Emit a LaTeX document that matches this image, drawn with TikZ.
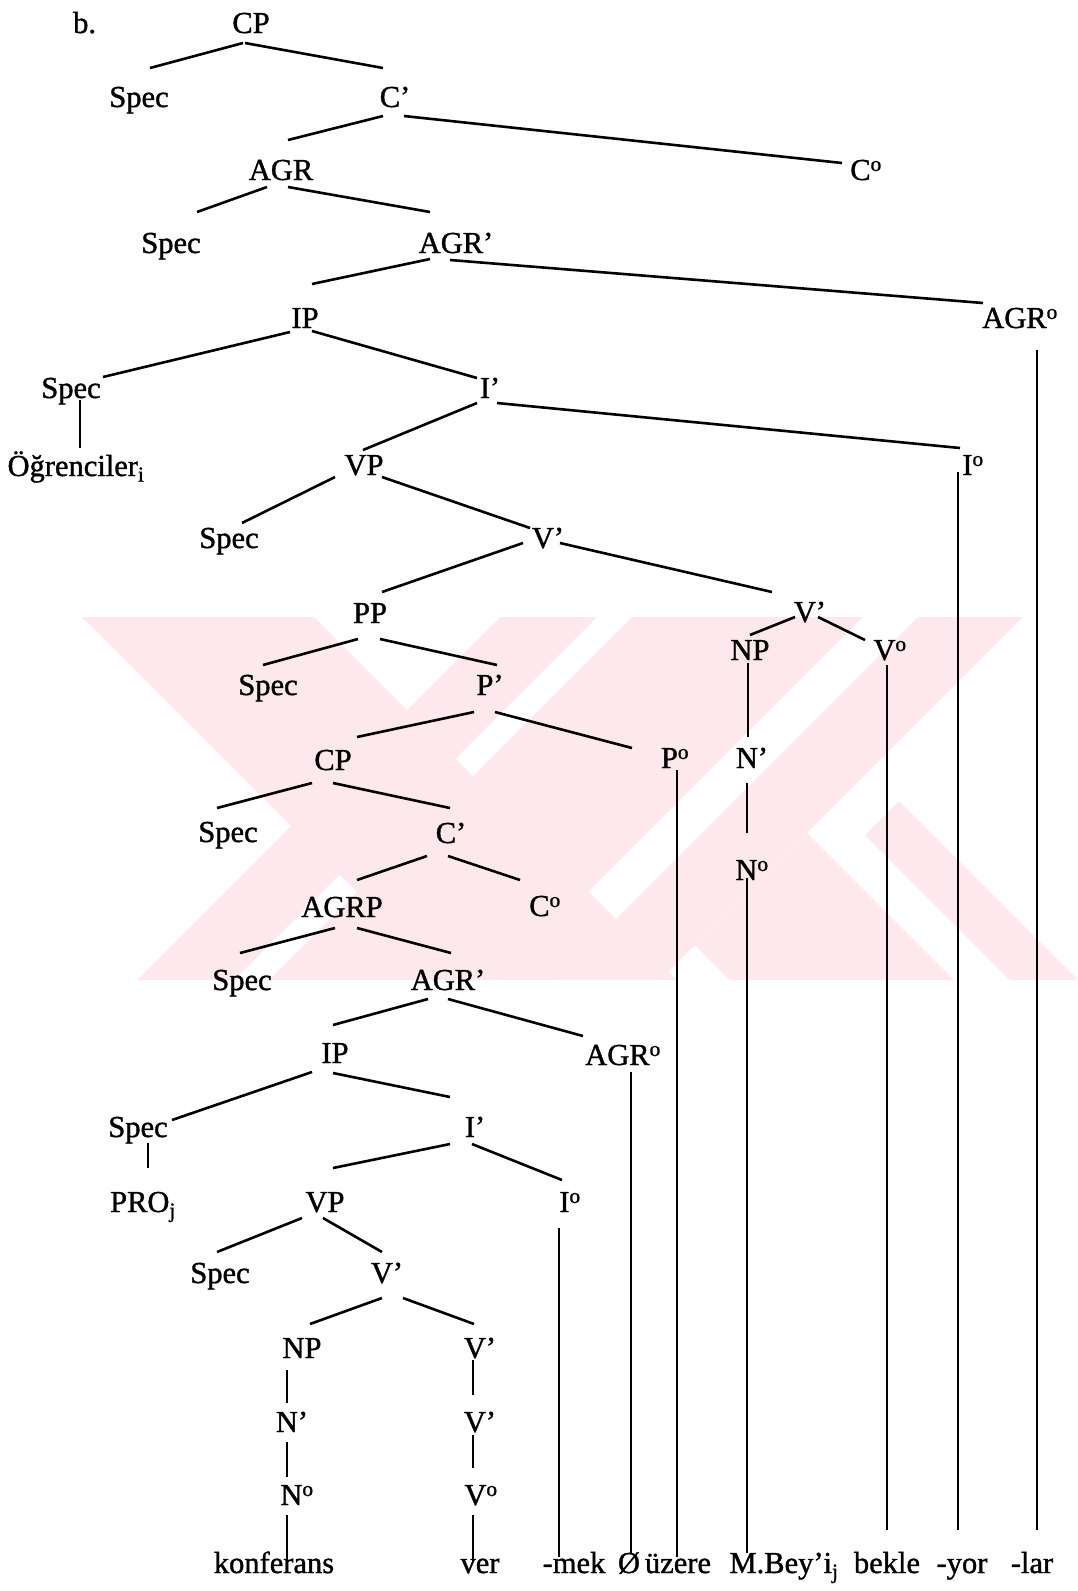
\documentclass[tikz,border=0pt]{standalone}
\usepackage{fontspec}
\setmainfont{Liberation Serif}[FakeBold=1.2]
\usetikzlibrary{calc}
\definecolor{wm}{RGB}{253,233,237}
\newcommand\E[4]{\draw[edge] ($(#1.base)+(#2)$) -- ($(#3.base)+(#4)$);}
\begin{document}
\begin{tikzpicture}[x=1pt,y=-1pt,
  lab/.style={anchor=base,inner sep=0pt,font=\fontsize{30.5}{36}\selectfont},
  edge/.style={line width=2.6pt,black}]
\useasboundingbox (0,0) rectangle (1078,1591);
% watermark
\begin{scope}
\clip (82,617) rectangle (1078,980);
\fill[wm] (82,617) -- (314,617) -- (677,980) -- (445,980) -- cycle;
\fill[wm] (500,617) -- (597,617) -- (234,980) -- (137,980) -- cycle;
\fill[wm] (632,617) -- (863,617) -- (500,980) -- (269,980) -- cycle;
\fill[wm] (918,617) -- (1023,617) -- (660,980) -- (555,980) -- cycle;
\fill[wm] (807,833) -- (954,980) -- (730,980) -- (695,945) -- cycle;
\fill[wm] (865,835) -- (899,801) -- (1078,980) -- (1010,980) -- cycle;
\end{scope}
% nodes
\node[lab,anchor=base west] (b) at (73,33) {b.};
\node[lab] (cpA) at (251,33) {CP};
\node[lab] (specA) at (139,107) {Spec};
\node[lab] (cbA) at (395,107) {C’};
\node[lab] (agrA) at (281,180) {AGR};
\node[lab] (c0A) at (866,180) {C\textsuperscript{o}};
\node[lab] (specB) at (171,253) {Spec};
\node[lab] (agrbA) at (456,253) {AGR’};
\node[lab] (ipA) at (305,328) {IP};
\node[lab] (agr0A) at (1020,328) {AGR\textsuperscript{o}};
\node[lab] (specC) at (71,398) {Spec};
\node[lab] (ibA) at (490,398) {I’};
\node[lab] (ogr) at (76,476) {Öğrenciler\textsubscript{i}};
\node[lab] (vpA) at (364,475) {VP};
\node[lab] (i0A) at (973,475) {I\textsuperscript{o}};
\node[lab] (specD) at (229,548) {Spec};
\node[lab] (vbA) at (548,548) {V’};
\node[lab] (ppA) at (370,623) {PP};
\node[lab] (vbB) at (810,622) {V’};
\node[lab] (npA) at (750,660) {NP};
\node[lab] (v0A) at (890,660) {V\textsuperscript{o}};
\node[lab] (specE) at (268,695) {Spec};
\node[lab] (pbA) at (490,695) {P’};
\node[lab] (cpB) at (333,770) {CP};
\node[lab] (p0A) at (675,768) {P\textsuperscript{o}};
\node[lab] (nbA) at (752,768) {N’};
\node[lab] (n0A) at (752,880) {N\textsuperscript{o}};
\node[lab] (specF) at (228,842) {Spec};
\node[lab] (cbB) at (451,843) {C’};
\node[lab] (agrpB) at (342,917) {AGRP};
\node[lab] (c0B) at (545,916) {C\textsuperscript{o}};
\node[lab] (specG) at (242,990) {Spec};
\node[lab] (agrbB) at (448,990) {AGR’};
\node[lab] (ipB) at (335,1063) {IP};
\node[lab] (agr0B) at (623,1065) {AGR\textsuperscript{o}};
\node[lab] (specH) at (138,1137) {Spec};
\node[lab] (ibB) at (475,1137) {I’};
\node[lab] (pro) at (143,1212) {PRO\textsubscript{j}};
\node[lab] (vpB) at (325,1212) {VP};
\node[lab] (i0B) at (570,1212) {I\textsuperscript{o}};
\node[lab] (specI) at (220,1283) {Spec};
\node[lab] (vbC) at (387,1283) {V’};
\node[lab] (npB) at (302,1358) {NP};
\node[lab] (vbD) at (480,1358) {V’};
\node[lab] (nbB) at (292,1432) {N’};
\node[lab] (vbE) at (480,1432) {V’};
\node[lab] (n0B) at (297,1505) {N\textsuperscript{o}};
\node[lab] (v0B) at (481,1505) {V\textsuperscript{o}};
\node[lab] (w1) at (274,1573) {konferans};
\node[lab] (w2) at (480,1573) {ver};
\node[lab] (w3) at (574,1573) {-mek};
\node[lab] (w4) at (629,1573) {Ø};
\node[lab] (w5) at (678,1573) {üzere};
\node[lab] (w6) at (784,1573) {M.Bey’i\textsubscript{j}};
\node[lab] (w7) at (887,1573) {bekle};
\node[lab] (w8) at (962,1573) {-yor};
\node[lab] (w9) at (1032,1573) {-lar};
% edges
\E{cpA}{-8,10}{specA}{11,-39}
\E{cpA}{-6,10}{cbA}{-12,-39}
\E{cbA}{-12,9}{agrA}{7,-40}
\E{cbA}{9,9}{c0A}{-24,-17}
\E{agrA}{-14,7}{specB}{26,-41}
\E{agrA}{7,7}{agrbA}{-26,-41}
\E{agrbA}{-26,6}{ipA}{7,-44}
\E{agrbA}{-6,7}{agr0A}{-37,-25}
\E{ipA}{-15,4}{specC}{32,-21}
\E{ipA}{7,3}{ibA}{-13,-20}
\E{specC}{9,2}{ogr}{4,-28}
\E{ibA}{-13,5}{vpA}{-1,-25}
\E{ibA}{7,5}{i0A}{-13,-27}
\E{i0A}{-15,-3}{w8}{-4,-43}
\E{agr0A}{17,22}{w9}{5,-43}
\E{vpA}{-29,2}{specD}{13,-25}
\E{vpA}{18,2}{vbA}{-18,-20}
\E{vbA}{-25,-5}{ppA}{12,-31}
\E{vbA}{12,-5}{vbB}{-38,-30}
\E{ppA}{-12,16}{specE}{-5,-30}
\E{ppA}{10,16}{pbA}{7,-30}
\E{vbB}{-15,-5}{npA}{0,-25}
\E{vbB}{8,-5}{v0A}{-25,-20}
\E{npA}{-2,3}{nbA}{-4,-31}
\E{v0A}{-3,5}{w7}{0,-43}
\E{pbA}{-16,17}{cpB}{24,-33}
\E{pbA}{5,17}{p0A}{-43,-20}
\E{p0A}{2,2}{w5}{-1,-16}
\E{nbA}{-5,15}{n0A}{-5,-47}
\E{n0A}{-5,-2}{w6}{-37,-20}
\E{cpB}{-21,13}{specF}{-11,-34}
\E{cpB}{0,13}{cbB}{-1,-35}
\E{cbB}{-24,13}{agrpB}{15,-37}
\E{cbB}{-3,13}{c0B}{-25,-36}
\E{agrpB}{-7,11}{specG}{-2,-37}
\E{agrpB}{15,11}{agrbB}{3,-37}
\E{agrbB}{-20,9}{ipB}{-2,-38}
\E{agrbB}{0,9}{agr0B}{-40,-29}
\E{agr0B}{8,7}{w4}{2,-20}
\E{ipB}{-23,9}{specH}{34,-17}
\E{ipB}{-2,10}{ibB}{-25,-40}
\E{specH}{10,6}{pro}{5,-44}
\E{ibB}{-25,7}{vpB}{8,-44}
\E{ibB}{-3,7}{i0B}{-8,-32}
\E{i0B}{-11,16}{w3}{-15,-16}
\E{vpB}{-23,6}{specI}{-3,-31}
\E{vpB}{-2,6}{vbC}{-5,-31}
\E{vbC}{-5,15}{npB}{8,-34}
\E{vbC}{16,15}{vbD}{-6,-34}
\E{npB}{-15,12}{nbB}{-5,-29}
\E{vbD}{-7,2}{vbE}{-7,-37}
\E{nbB}{-5,10}{n0B}{-10,-28}
\E{vbE}{-7,3}{v0B}{-8,-37}
\E{n0B}{-10,10}{w1}{13,-11}
\E{v0B}{-8,10}{w2}{-7,-11}
\end{tikzpicture}
\end{document}
